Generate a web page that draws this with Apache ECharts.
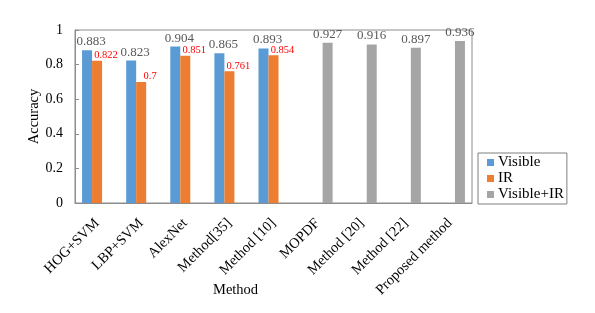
<!DOCTYPE html>
<html><head><meta charset="utf-8">
<script src="https://cdn.jsdelivr.net/npm/echarts@6/dist/echarts.min.js"></script>
<style>html,body{margin:0;padding:0;background:#fff}#c{width:595px;height:313px}</style>
</head><body><div id="c"></div>
<script>
var categories = ['HOG+SVM','LBP+SVM','AlexNet','Method[35]','Method [10]','MOPDF','Method [20]','Method [22]','Proposed method'];
var visible = [0.883, 0.823, 0.904, 0.865, 0.893, '-', '-', '-', '-'];
var ir = [0.822, 0.7, 0.851, 0.761, 0.854, '-', '-', '-', '-'];
var visibleIR = ['-', '-', '-', '-', '-', 0.927, 0.916, 0.897, 0.936];
var yTicks = [0, 0.2, 0.4, 0.6, 0.8, 1];

var serif = '"Liberation Serif", "Times New Roman", serif';
var chart = echarts.init(document.getElementById('c'));
chart.setOption({
  animation: false,
  textStyle: {fontFamily: serif},
  grid: {left: 75, right: 123, top: 30, bottom: 110, show: true, borderColor: '#8c8c8c', borderWidth: 1, containLabel: false},
  legend: {
    orient: 'vertical', left: 478, top: 153,
    itemWidth: 7, itemHeight: 7, itemGap: 1,
    padding: [2, 3, 2, 9], borderColor: '#7f7f7f', borderWidth: 1,
    textStyle: {fontFamily: serif, fontSize: 15, lineHeight: 15, color: '#000', padding: [0, 0, 0, -1]},
    icon: 'rect',
    data: ['Visible', 'IR', 'Visible+IR']
  },
  xAxis: {
    type: 'category', data: categories,
    axisLine: {lineStyle: {color: '#8c8c8c'}},
    axisTick: {inside: true, length: 4, lineStyle: {color: '#8c8c8c'}},
    axisLabel: {rotate: 45, interval: 0, fontFamily: serif, fontSize: 14.5, color: '#000', margin: 18}
  },
  yAxis: {
    type: 'value', min: yTicks[0], max: yTicks[yTicks.length - 1], interval: 0.2,
    name: 'Accuracy', nameLocation: 'middle', nameGap: 33, nameMoveOverlap: false,
    nameTextStyle: {fontFamily: serif, fontSize: 14.5, color: '#000'},
    axisLine: {show: true, lineStyle: {color: '#8c8c8c'}},
    axisTick: {show: true, inside: true, length: 4, lineStyle: {color: '#8c8c8c'}},
    splitLine: {show: false},
    axisLabel: {fontFamily: serif, fontSize: 14, color: '#000', margin: 12,
      formatter: function (v) { return String(Math.round(v * 10) / 10); }}
  },
  graphic: [{type: 'text', left: 213, top: 283, style: {text: 'Method', font: '14.5px "Liberation Serif", serif', fill: '#000'}}],
  series: [
    {name: 'Visible', type: 'bar', data: visible, barWidth: 10, barGap: '0%', barCategoryGap: '54%',
      itemStyle: {color: '#5B9BD5'},
      label: {show: true, position: 'top', distance: 2, offset: [4, 0], fontFamily: serif, fontSize: 13, color: '#595959'}},
    {name: 'IR', type: 'bar', data: ir, barWidth: 10, barGap: '0%',
      itemStyle: {color: '#ED7D31'},
      label: {show: true, position: 'top', distance: 0, offset: [9, 0], fontFamily: serif, fontSize: 10.5, color: '#FF0000'}},
    {name: 'Visible+IR', type: 'bar', data: visibleIR, barWidth: 10, barGap: '0%',
      itemStyle: {color: '#A5A5A5'},
      label: {show: true, position: 'top', distance: 2, fontFamily: serif, fontSize: 13, color: '#595959'}}
  ]
});
</script></body></html>
